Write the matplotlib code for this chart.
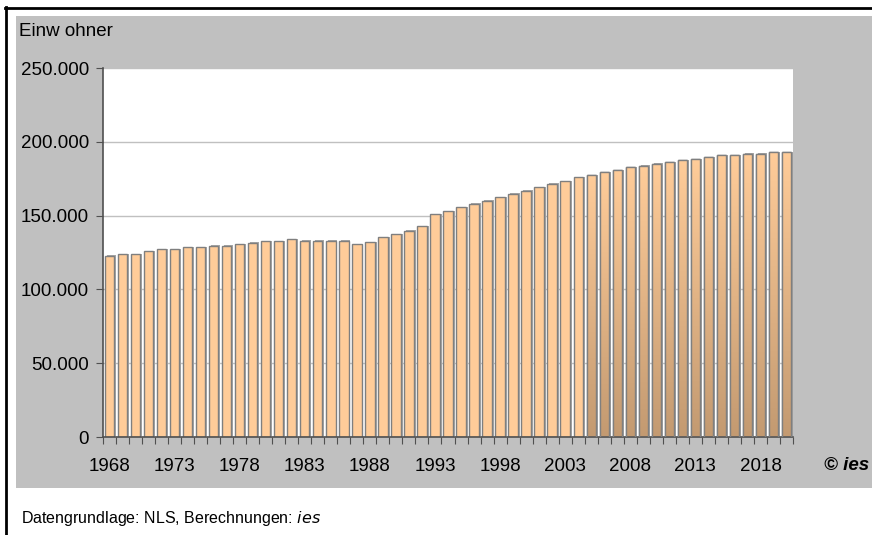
import numpy as np
import matplotlib
matplotlib.use("Agg")
import matplotlib.pyplot as plt
import matplotlib.patheffects as pe
from matplotlib.colors import LinearSegmentedColormap
from matplotlib.lines import Line2D
from matplotlib.patches import Rectangle

plt.rcParams['font.family'] = ['Liberation Sans', 'DejaVu Sans']

# Einwohner je Jahr
years = list(range(1968, 2021))
population = [
    122600, 123800, 123800, 125800, 127200, 127200, 128500, 128500, 129400, 129400,
    130500, 131700, 132600, 132700, 133900, 132800, 132800, 132800, 132800, 130500,
    131900, 135300, 137300, 139600, 142700, 150900, 152900, 155600, 157900, 159900,
    162400, 164600, 166900, 169200, 171400, 173400, 175900, 177300, 179300, 180700,
    182700, 183600, 185000, 186100, 187500, 188300, 189500, 190800, 190800, 191700,
    191700, 192900, 192900,
]
first_shaded_year = 2005
y_ticks = [0, 50000, 100000, 150000, 200000, 250000]
y_labels = ['0', '50.000', '100.000', '150.000', '200.000', '250.000']

fig = plt.figure(figsize=(8.72, 5.35), dpi=100)

# grauer Hintergrund und schwarzer Rahmen
fig.patches.append(Rectangle((16 / 872, 47 / 535), 856 / 872, 472 / 535,
                             transform=fig.transFigure, facecolor='#C0C0C0',
                             edgecolor='none', zorder=-5))
fig.lines.append(Line2D([6 / 872, 6 / 872], [0, 528 / 535], transform=fig.transFigure,
                        color='black', linewidth=2))
fig.lines.append(Line2D([5 / 872, 1], [527.5 / 535, 527.5 / 535], transform=fig.transFigure,
                        color='black', linewidth=2))

ax = fig.add_axes([103 / 872, 98 / 535, 690 / 872, 369 / 535])
ax.set_facecolor('white')

x = np.arange(len(years))
width = 0.72
shadow = [pe.SimplePatchShadow(offset=(1.4, 0.4), shadow_rgbFace='#A8A8A8', alpha=1.0),
          pe.Normal()]
bars = ax.bar(x, population, width=width, color='#FFCC99', edgecolor='#7F7F7F',
              linewidth=1.0, zorder=2)
for b in bars:
    b.set_path_effects(shadow)

# Farbverlauf fuer die spaeteren Jahre
cmap = LinearSegmentedColormap.from_list('tan', ['#C39A71', '#FFCC99'])
grad = np.linspace(0, 1, 256).reshape(-1, 1)
for xi, yr, val, b in zip(x, years, population, bars):
    if yr < first_shaded_year:
        continue
    im = ax.imshow(grad, extent=[xi - width / 2, xi + width / 2, 0, val], origin='lower',
                   aspect='auto', cmap=cmap, zorder=2.5, interpolation='bilinear')
    im.set_clip_path(b)
    ax.bar(xi, val, width=width, color='none', edgecolor='#7F7F7F', linewidth=1.0, zorder=3)

ax.set_xlim(-0.5, len(years) - 0.5)
ax.set_ylim(0, 250000)
ax.set_aspect('auto')

ax.set_yticks(y_ticks)
ax.set_yticklabels(y_labels, fontsize=13.5)
ax.yaxis.grid(True, color='#C0C0C0', linewidth=1)
ax.set_axisbelow(True)

ax.set_xticks(np.arange(len(years) + 1) - 0.5)
ax.set_xticklabels([])
ax.set_xticks(x[::5], minor=True)
ax.set_xticklabels([str(y) for y in years[::5]], minor=True, fontsize=13.5)
ax.tick_params(axis='x', which='major', length=5, color='#505050', direction='out')
ax.tick_params(axis='x', which='minor', length=0, pad=15)
ax.tick_params(axis='y', length=5, color='#505050', pad=5)

for s in ['top', 'right']:
    ax.spines[s].set_visible(False)
for s in ['left', 'bottom']:
    ax.spines[s].set_color('#505050')
    ax.spines[s].set_linewidth(1.2)

fig.text(19 / 872, 1 - 32 / 535, 'Einw ohner', fontsize=13.5, va='center', ha='left')
fig.text(869 / 872, 1 - 466 / 535, '© ies', fontsize=13.5, fontweight='bold',
         fontstyle='italic', va='center', ha='right')
fig.text(21 / 872, 1 - 519 / 535, 'Datengrundlage: NLS, Berechnungen: $\\it{ies}$',
         fontsize=11.5, va='center', ha='left')

fig.savefig('out.png', dpi=100)
